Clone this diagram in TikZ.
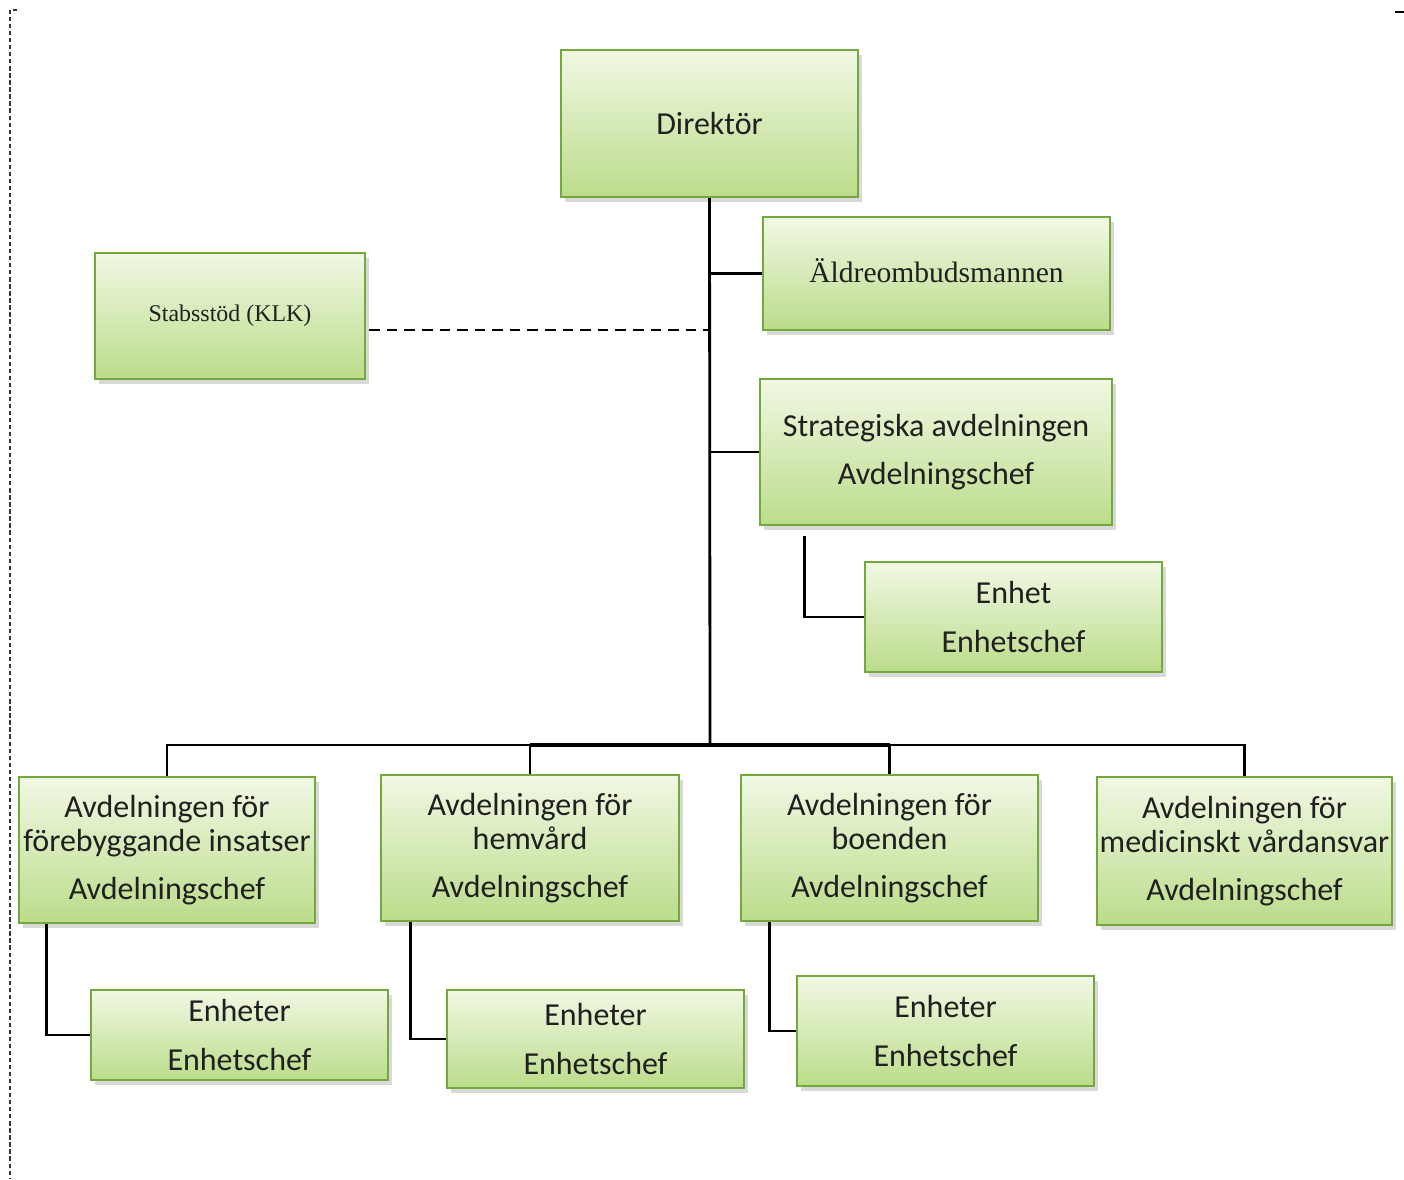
\documentclass[tikz,border=0pt]{standalone}
\usepackage{fontspec}
\setmainfont{Carlito}
\newfontfamily\serifnt{Liberation Serif}
\usetikzlibrary{calc,shadows,positioning}
\usepackage{xcolor}
\newcommand{\pxu}{0.01cm}
\definecolor{boxtop}{HTML}{F1F8E4}
\definecolor{boxbot}{HTML}{BBDC8A}
\definecolor{boxline}{HTML}{72A83C}
\definecolor{boxtext}{HTML}{202020}
\tikzset{
    boxsty/.style={draw=boxline,line width=0.7pt,rectangle,top color=boxtop,bottom color=boxbot,
        drop shadow={shadow xshift=1.2pt,shadow yshift=-1.4pt,opacity=0.3},
        align=center,text=boxtext,font=\fontsize{9.1}{9.7}\selectfont,inner sep=0pt},
    serifsty/.style={font=\serifnt\fontsize{#1}{9}\selectfont},
    linksty/.style={line width=0.8pt,black},
    dashsty/.style={line width=0.8pt,dash pattern=on 3pt off 2pt},
    framesty/.style={line width=0.4pt,dash pattern=on 1.2pt off 0.8pt,black!80},
}

\begin{document}
\begin{tikzpicture}[x=\pxu,y=-\pxu]
  \useasboundingbox (0,0) rectangle (1404,1179);

  % scan frame
  \draw[framesty] (17,10) -- (10,10) -- (10,1179);
  \draw[line width=0.5pt] (1395,12) -- (1404,12);

  % top levels
  \node[boxsty,minimum width=297*\pxu,minimum height=147*\pxu] (dir) at (709.5,123.5) {Direktör};
  \node[boxsty,serifsty=8.4,minimum width=347*\pxu,minimum height=113*\pxu] (ald) at (936.5,273.5) {\raisebox{1.5pt}{Äldreombudsmannen}};
  \node[boxsty,serifsty=6.8,minimum width=270*\pxu,minimum height=126*\pxu] (stab) at (230,316) {\raisebox{1.5pt}{Stabsstöd (KLK)}};
  \node[boxsty,minimum width=352*\pxu,minimum height=146*\pxu] (strat) at (936,452) {Strategiska avdelningen\\[4pt]Avdelningschef};
  \node[boxsty,minimum width=297*\pxu,minimum height=110*\pxu] (enh) at (1013.5,617) {Enhet\\[4pt]Enhetschef};

  % departments
  \node[boxsty,minimum width=296*\pxu,minimum height=146*\pxu] (avd1) at (167,850) {Avdelningen för\\förebyggande insatser\\[4pt]Avdelningschef};
  \node[boxsty,minimum width=298*\pxu,minimum height=146*\pxu] (avd2) at (530,848) {Avdelningen för\\hemvård\\[4pt]Avdelningschef};
  \node[boxsty,minimum width=297*\pxu,minimum height=146*\pxu] (avd3) at (889.5,848) {Avdelningen för\\boenden\\[4pt]Avdelningschef};
  \node[boxsty,minimum width=295*\pxu,minimum height=148*\pxu] (avd4) at (1244.5,851) {Avdelningen för\\medicinskt vårdansvar\\[4pt]Avdelningschef};

  % units
  \node[boxsty,minimum width=297*\pxu,minimum height=90*\pxu] (ent1) at (239.5,1035) {Enheter\\[4pt]Enhetschef};
  \node[boxsty,minimum width=297*\pxu,minimum height=98*\pxu] (ent2) at (595.5,1039) {Enheter\\[4pt]Enhetschef};
  \node[boxsty,minimum width=297*\pxu,minimum height=110*\pxu] (ent3) at (945.5,1031) {Enheter\\[4pt]Enhetschef};

  % connectors
  \coordinate (bus) at (710,745);
  \draw[linksty] (dir.south) -- (bus);
  \draw[linksty] (ald.west) -- (ald.west -| dir.south);
  \draw[linksty] (strat.west) -- (strat.west -| dir.south);
  \coordinate (stabend) at ($(stab.east)+(3,14)$);
  \draw[dashsty] (stabend) -- (stabend -| dir.south);
  \coordinate (stratdown) at ($(strat.south west)+(46,10)$);
  \draw[linksty] (stratdown) |- (enh.west);

  \draw[linksty] (avd1.north) |- (bus) -| (avd4.north);
  \draw[linksty,line width=1.3pt] (avd2.north |- bus) -- (avd3.north |- bus);
  \draw[linksty] (avd2.north) -- (avd2.north |- bus);
  \draw[linksty] (avd3.north) -- (avd3.north |- bus);

  \coordinate (avd1down) at ($(avd1.south west)+(29,0)$);
  \coordinate (avd2down) at ($(avd2.south west)+(31,0)$);
  \coordinate (avd3down) at ($(avd3.south west)+(30,0)$);
  \draw[linksty] (avd1down) |- (ent1.west);
  \draw[linksty] (avd2down) |- (ent2.west);
  \draw[linksty] (avd3down) |- (ent3.west);
\end{tikzpicture}
\end{document}
